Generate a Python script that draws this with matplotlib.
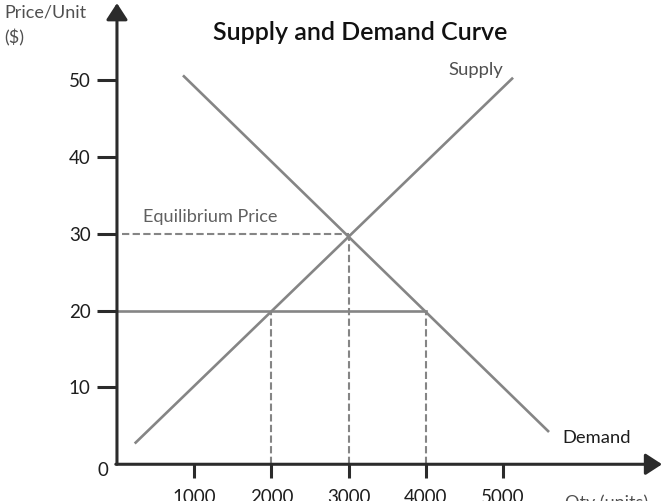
import matplotlib
matplotlib.use("Agg")
import matplotlib.pyplot as plt

plt.rcParams['font.family'] = ['Lato', 'DejaVu Sans']

# data
supply_qty = [230, 5130]
supply_price = [2.7, 50.3]
demand_qty = [855, 5596]
demand_price = [50.6, 4.2]

eq_qty = 3000
eq_price = 30
low_price = 20
low_qty = [2000, 4000]

x_ticks = [1000, 2000, 3000, 4000, 5000]
y_ticks = [10, 20, 30, 40, 50]

line_col = '#858585'
axis_col = '#2b2b2b'

fig = plt.figure(figsize=(6.69, 5.01), dpi=100)
ax = fig.add_axes([0, 0, 1, 1])
ax.set_xlim(-1515, 7150)
ax.set_ylim(-4.78, 60.41)
ax.patch.set_visible(False)

# supply / demand lines
ax.plot(supply_qty, supply_price, color=line_col, lw=1.9, solid_capstyle='butt')
ax.plot(demand_qty, demand_price, color=line_col, lw=1.9, solid_capstyle='butt')

# price 20 line (solid) and equilibrium guides (dashed)
ax.plot([0, low_qty[1]], [low_price, low_price], color=line_col, lw=1.9)
ax.plot([60, eq_qty], [eq_price, eq_price], color=line_col, lw=1.5, dashes=(3.5, 1.6))
for q in low_qty:
    ax.plot([q, q], [0, low_price], color=line_col, lw=1.5, dashes=(3.5, 1.6))
ax.plot([eq_qty, eq_qty], [0, eq_price], color=line_col, lw=1.5, dashes=(3.5, 1.6))

# axes with arrows
for sp in ['top', 'right']:
    ax.spines[sp].set_visible(False)
ax.spines['left'].set_position(('data', 0))
ax.spines['bottom'].set_position(('data', 0))
ax.spines['left'].set_color('none')
ax.spines['bottom'].set_color('none')
arrow = dict(arrowstyle='-|>,head_length=0.4,head_width=0.26', mutation_scale=25,
             lw=2.2, color=axis_col, shrinkA=0, shrinkB=0)
ax.annotate('', xy=(0, 60.0), xytext=(0, 0), arrowprops=arrow)
ax.annotate('', xy=(7060, 0), xytext=(-15, 0), arrowprops=arrow)

ax.set_xticks(x_ticks)
ax.set_xticklabels([str(v) for v in x_ticks])
ax.set_yticks(y_ticks)
ax.set_yticklabels([str(v) for v in y_ticks])
ax.tick_params(axis='x', direction='out', length=10, width=2.2, color=axis_col,
               pad=7.5, labelsize=13.5, labelcolor='#1e1e1e')
ax.tick_params(axis='y', direction='out', length=14.4, width=2.2, color=axis_col,
               pad=4.5, labelsize=13.5, labelcolor='#1e1e1e')

ax.text(-180, -0.8, '0', ha='center', va='center', fontsize=13.5, color='#1e1e1e')

# labels
fig.text(360 / 669, 1 - 32 / 501, 'Supply and Demand Curve', ha='center', va='center',
         fontsize=18, fontweight='semibold', color='#111111')
fig.text(448 / 669, 1 - 70 / 501, 'Supply', ha='left', va='center', fontsize=13.3, color='#505050')
fig.text(562 / 669, 1 - 438 / 501, 'Demand', ha='left', va='center', fontsize=13.2, color='#1e1e1e')
fig.text(143 / 669, 1 - 217 / 501, 'Equilibrium Price', ha='left', va='center', fontsize=13.1,
         color='#606060')
fig.text(4 / 669, 1 - 13 / 501, 'Price/Unit', ha='left', va='center', fontsize=13, color='#505050')
fig.text(4 / 669, 1 - 38 / 501, '($)', ha='left', va='center', fontsize=13, color='#505050')
fig.text(565 / 669, 1 - 508 / 501, 'Qty (units)', ha='left', va='baseline', fontsize=13,
         color='#505050')

fig.savefig('out.png', dpi=100)
